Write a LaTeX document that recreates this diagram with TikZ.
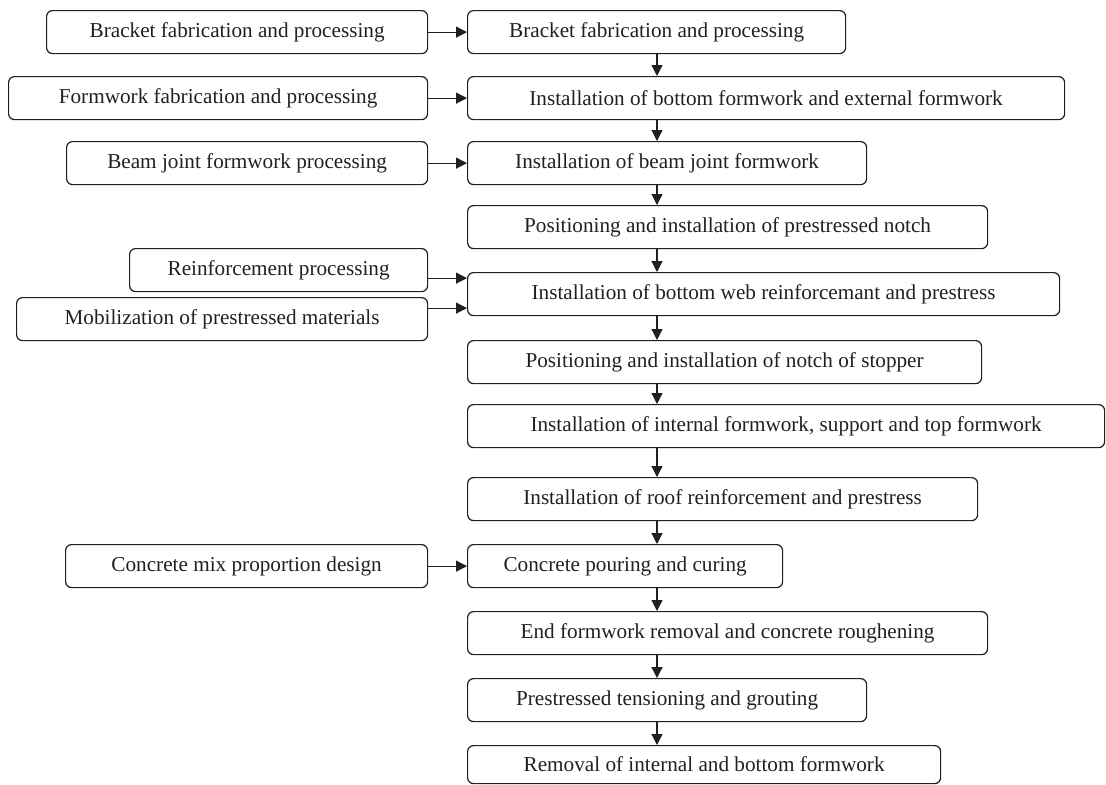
\documentclass[tikz,border=0pt]{standalone}
\usepackage{fontspec}
\setmainfont{Liberation Serif}
\usetikzlibrary{arrows.meta}
\definecolor{ink}{RGB}{35,31,32}
\tikzset{
  stepbox/.style={draw=ink, text=ink, rounded corners=3pt, line width=0.6pt, anchor=north west,
    minimum height=21.5pt, inner sep=0pt, font=\fontsize{10.6}{12}\selectfont},
  flow/.style={draw=ink, line width=0.6pt, -{Triangle[length=5.5pt,width=5.5pt]}}
}
\begin{document}
\begin{tikzpicture}[x=0.5pt,y=-0.5pt]
    \useasboundingbox (0,0) rectangle (1106,784);
    \node[stepbox, minimum width=190.5pt] (p1) at ( 46, 10) {Bracket fabrication and processing};
    \node[stepbox, minimum width=209.5pt] (p2) at (  8, 76) {Formwork fabrication and processing};
    \node[stepbox, minimum width=180.5pt] (p3) at ( 66,141) {Beam joint formwork processing};
    \node[stepbox, minimum width=149pt]   (p4) at (129,248) {Reinforcement processing};
    \node[stepbox, minimum width=205.5pt] (p5) at ( 16,297) {Mobilization of prestressed materials};
    \node[stepbox, minimum width=181pt]   (p6) at ( 65,544) {Concrete mix proportion design};
    \node[stepbox, minimum width=189pt]   (s1)  at (467, 10) {Bracket fabrication and processing};
    \node[stepbox, minimum width=298.5pt] (s2)  at (467, 76) {Installation of bottom formwork and external formwork};
    \node[stepbox, minimum width=199.5pt] (s3)  at (467,141) {Installation of beam joint formwork};
    \node[stepbox, minimum width=260pt]   (s4)  at (467,205) {Positioning and installation of prestressed notch};
    \node[stepbox, minimum width=296pt]   (s5)  at (467,272) {Installation of bottom web reinforcemant and prestress};
    \node[stepbox, minimum width=257pt]   (s6)  at (467,340) {Positioning and installation of notch of stopper};
    \node[stepbox, minimum width=318.5pt] (s7)  at (467,404) {Installation of internal formwork, support and top formwork};
    \node[stepbox, minimum width=255pt]   (s8)  at (467,477) {Installation of roof reinforcement and prestress};
    \node[stepbox, minimum width=157.5pt] (s9)  at (467,544) {Concrete pouring and curing};
    \node[stepbox, minimum width=260pt]   (s10) at (467,611) {End formwork removal and concrete roughening};
    \node[stepbox, minimum width=199.5pt] (s11) at (467,678) {Prestressed tensioning and grouting};
    \node[stepbox, minimum width=236.5pt, minimum height=19pt] (s12) at (467,745) {Removal of internal and bottom formwork};
    \coordinate (axis) at (657,0);
    \draw[flow] (p1.east) -- (p1.east -| s1.west);
    \draw[flow] (p2.east) -- (p2.east -| s2.west);
    \draw[flow] (p3.east) -- (p3.east -| s3.west);
    \draw[flow] ([yshift=-4pt]p4.east) -- ([yshift=-4pt]p4.east -| s5.west);
    \draw[flow] ([yshift=5.5pt]p5.east) -- ([yshift=5.5pt]p5.east -| s5.west);
    \draw[flow] (p6.east) -- (p6.east -| s9.west);
    \draw[flow] (s1.south -| axis) -- (s2.north -| axis);
    \draw[flow] (s2.south -| axis) -- (s3.north -| axis);
    \draw[flow] (s3.south -| axis) -- (s4.north -| axis);
    \draw[flow] (s4.south -| axis) -- (s5.north -| axis);
    \draw[flow] (s5.south -| axis) -- (s6.north -| axis);
    \draw[flow] (s6.south -| axis) -- (s7.north -| axis);
    \draw[flow] (s7.south -| axis) -- (s8.north -| axis);
    \draw[flow] (s8.south -| axis) -- (s9.north -| axis);
    \draw[flow] (s9.south -| axis) -- (s10.north -| axis);
    \draw[flow] (s10.south -| axis) -- (s11.north -| axis);
    \draw[flow] (s11.south -| axis) -- (s12.north -| axis);
  \end{tikzpicture}
\end{document}
